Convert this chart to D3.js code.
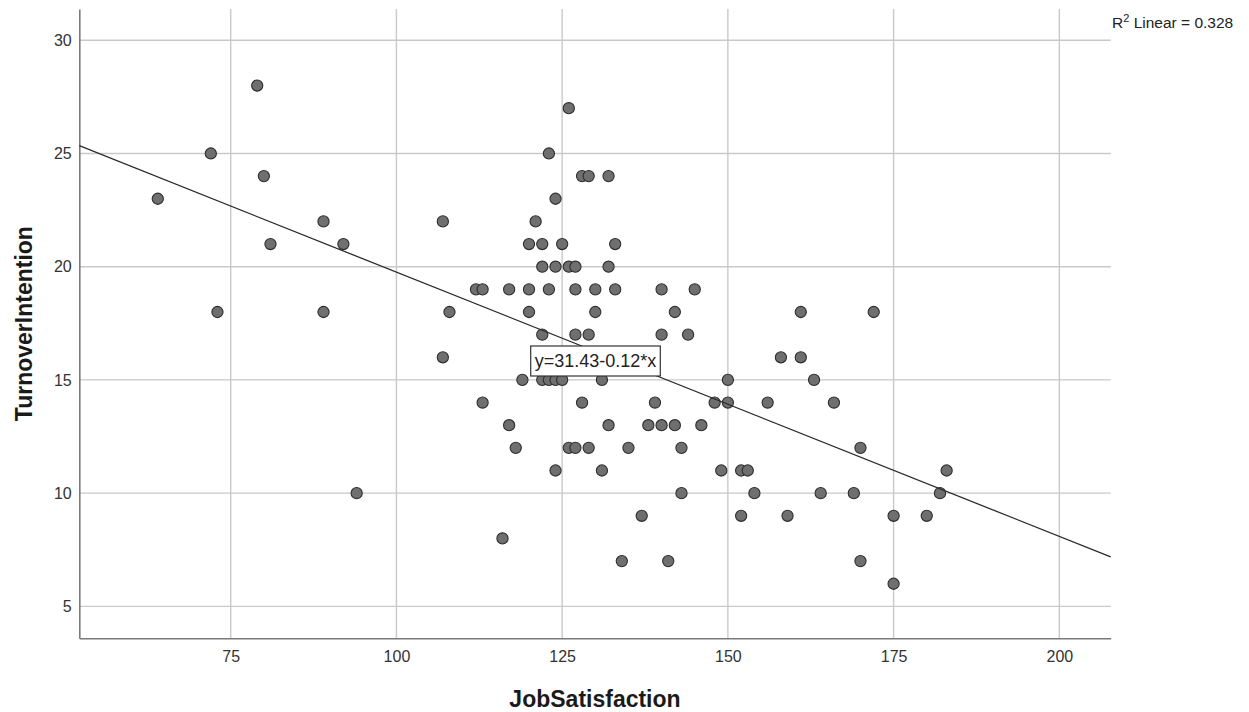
<!DOCTYPE html>
<html>
<head>
<meta charset="utf-8">
<script src="https://cdn.jsdelivr.net/npm/d3@7"></script>
<style>
  html, body { margin: 0; padding: 0; background: #fff; }
  svg { display: block; font-family: "Liberation Sans", Arial, sans-serif; }
</style>
</head>
<body>
<svg id="chart" width="1249" height="712"></svg>
<script>
// Job satisfaction score (x) and turnover intention score (y) per respondent
const jobSatisfaction = [
  64, 72, 73, 79, 80, 81, 89, 89, 92, 94,
  107, 107, 108, 112, 113, 113, 116, 117, 117, 118,
  119, 120, 120, 120, 121, 122, 122, 122, 122, 123,
  123, 123, 124, 124, 124, 124, 125, 125, 126, 126,
  126, 127, 127, 127, 127, 128, 128, 129, 129, 129,
  130, 130, 131, 131, 132, 132, 132, 133, 133, 134,
  135, 137, 138, 139, 140, 140, 140, 141, 142, 142,
  143, 143, 144, 145, 146, 148, 149, 150, 150, 152,
  152, 153, 154, 156, 158, 159, 161, 161, 163, 164,
  166, 169, 170, 170, 172, 175, 175, 180, 182, 183
];
const turnoverIntention = [
  23, 25, 18, 28, 24, 21, 22, 18, 21, 10,
  22, 16, 18, 19, 19, 14, 8, 19, 13, 12,
  15, 21, 19, 18, 22, 21, 20, 17, 15, 25,
  19, 15, 23, 20, 15, 11, 21, 15, 27, 20,
  12, 20, 19, 17, 12, 24, 14, 24, 17, 12,
  19, 18, 15, 11, 24, 20, 13, 21, 19, 7,
  12, 9, 13, 14, 19, 17, 13, 7, 18, 13,
  12, 10, 17, 19, 13, 14, 11, 15, 14, 11,
  9, 11, 10, 14, 16, 9, 18, 16, 15, 10,
  14, 10, 12, 7, 18, 9, 6, 9, 10, 11
];

const xTicks = [75, 100, 125, 150, 175, 200];
const yTicks = [5, 10, 15, 20, 25, 30];

// Linear fit: y = intercept + slope * x
const fitIntercept = 31.43;
const fitSlope = -0.1167;
const rSquared = 0.328;

const svg = d3.select("#chart");
const plot = { left: 79.3, right: 1110.7, top: 9, bottom: 638.3 };

const x = d3.scaleLinear().domain([52.16, 207.75]).range([plot.left, plot.right]);
const y = d3.scaleLinear().domain([3.59, 31.38]).range([plot.bottom, plot.top]);

// Grid lines
const grid = svg.append("g");
grid.selectAll("line.v").data(xTicks).join("line")
  .attr("x1", d => x(d)).attr("x2", d => x(d))
  .attr("y1", plot.top).attr("y2", plot.bottom)
  .attr("stroke", "#c9c9c9").attr("stroke-width", 1.4);
grid.selectAll("line.h").data(yTicks).join("line")
  .attr("x1", plot.left).attr("x2", plot.right)
  .attr("y1", d => y(d)).attr("y2", d => y(d))
  .attr("stroke", "#c9c9c9").attr("stroke-width", 1.4);

// Axes (labels only, no tick marks)
const xAxis = svg.append("g")
  .attr("transform", `translate(0,${plot.bottom})`)
  .call(d3.axisBottom(x).tickValues(xTicks).tickSize(0).tickPadding(12.6));
const yAxis = svg.append("g")
  .attr("transform", `translate(${plot.left},0)`)
  .call(d3.axisLeft(y).tickValues(yTicks).tickSize(0).tickPadding(7.6));
[xAxis, yAxis].forEach(g => {
  g.select(".domain").attr("stroke", "#7a7a7a").attr("stroke-width", 1.6);
  g.selectAll("text").attr("font-size", 16).attr("fill", "#333")
    .attr("font-family", "'Liberation Sans', Arial, sans-serif");
});

// Points
const points = jobSatisfaction.map((v, i) => [v, turnoverIntention[i]]);
svg.append("g").selectAll("circle").data(points).join("circle")
  .attr("cx", d => x(d[0])).attr("cy", d => y(d[1])).attr("r", 5.6)
  .attr("fill", "#6f6f6f").attr("stroke", "#2e2e2e").attr("stroke-width", 1.1);

// Fit line across the plot
const [x0, x1] = x.domain();
svg.append("line")
  .attr("x1", x(x0)).attr("y1", y(fitIntercept + fitSlope * x0))
  .attr("x2", x(x1)).attr("y2", y(fitIntercept + fitSlope * x1))
  .attr("stroke", "#2b2b2b").attr("stroke-width", 1.3);

// Equation label
const eqText = `y=${fitIntercept.toFixed(2)}-${Math.abs(fitSlope).toFixed(2)}*x`;
const eqCx = 595.5, eqCy = 361;
const eqG = svg.append("g");
const eqRect = eqG.append("rect").attr("fill", "#fff").attr("stroke", "#333").attr("stroke-width", 1.2);
const eqLabel = eqG.append("text")
  .attr("x", eqCx).attr("y", eqCy).attr("text-anchor", "middle").attr("dominant-baseline", "central")
  .attr("font-size", 18).attr("fill", "#222").text(eqText);
const bb = eqLabel.node().getBBox();
eqRect.attr("x", bb.x - 4).attr("y", eqCy - 15).attr("width", bb.width + 8).attr("height", 30);

// R squared annotation
const r2 = svg.append("text").attr("x", 1112).attr("y", 28).attr("font-size", 15.5).attr("fill", "#222");
r2.append("tspan").text("R");
r2.append("tspan").attr("font-size", 11).attr("dy", -6).text("2");
r2.append("tspan").attr("dy", 6).text(` Linear = ${rSquared.toFixed(3)}`);

// Axis titles
svg.append("text").attr("x", (plot.left + plot.right) / 2).attr("y", 707)
  .attr("text-anchor", "middle").attr("font-size", 23).attr("font-weight", "bold")
  .attr("fill", "#1a1a1a").text("JobSatisfaction");
svg.append("text")
  .attr("transform", `translate(31.5,${(plot.top + plot.bottom) / 2}) rotate(-90)`)
  .attr("text-anchor", "middle").attr("font-size", 23).attr("font-weight", "bold")
  .attr("fill", "#1a1a1a").text("TurnoverIntention");
</script>
</body>
</html>
